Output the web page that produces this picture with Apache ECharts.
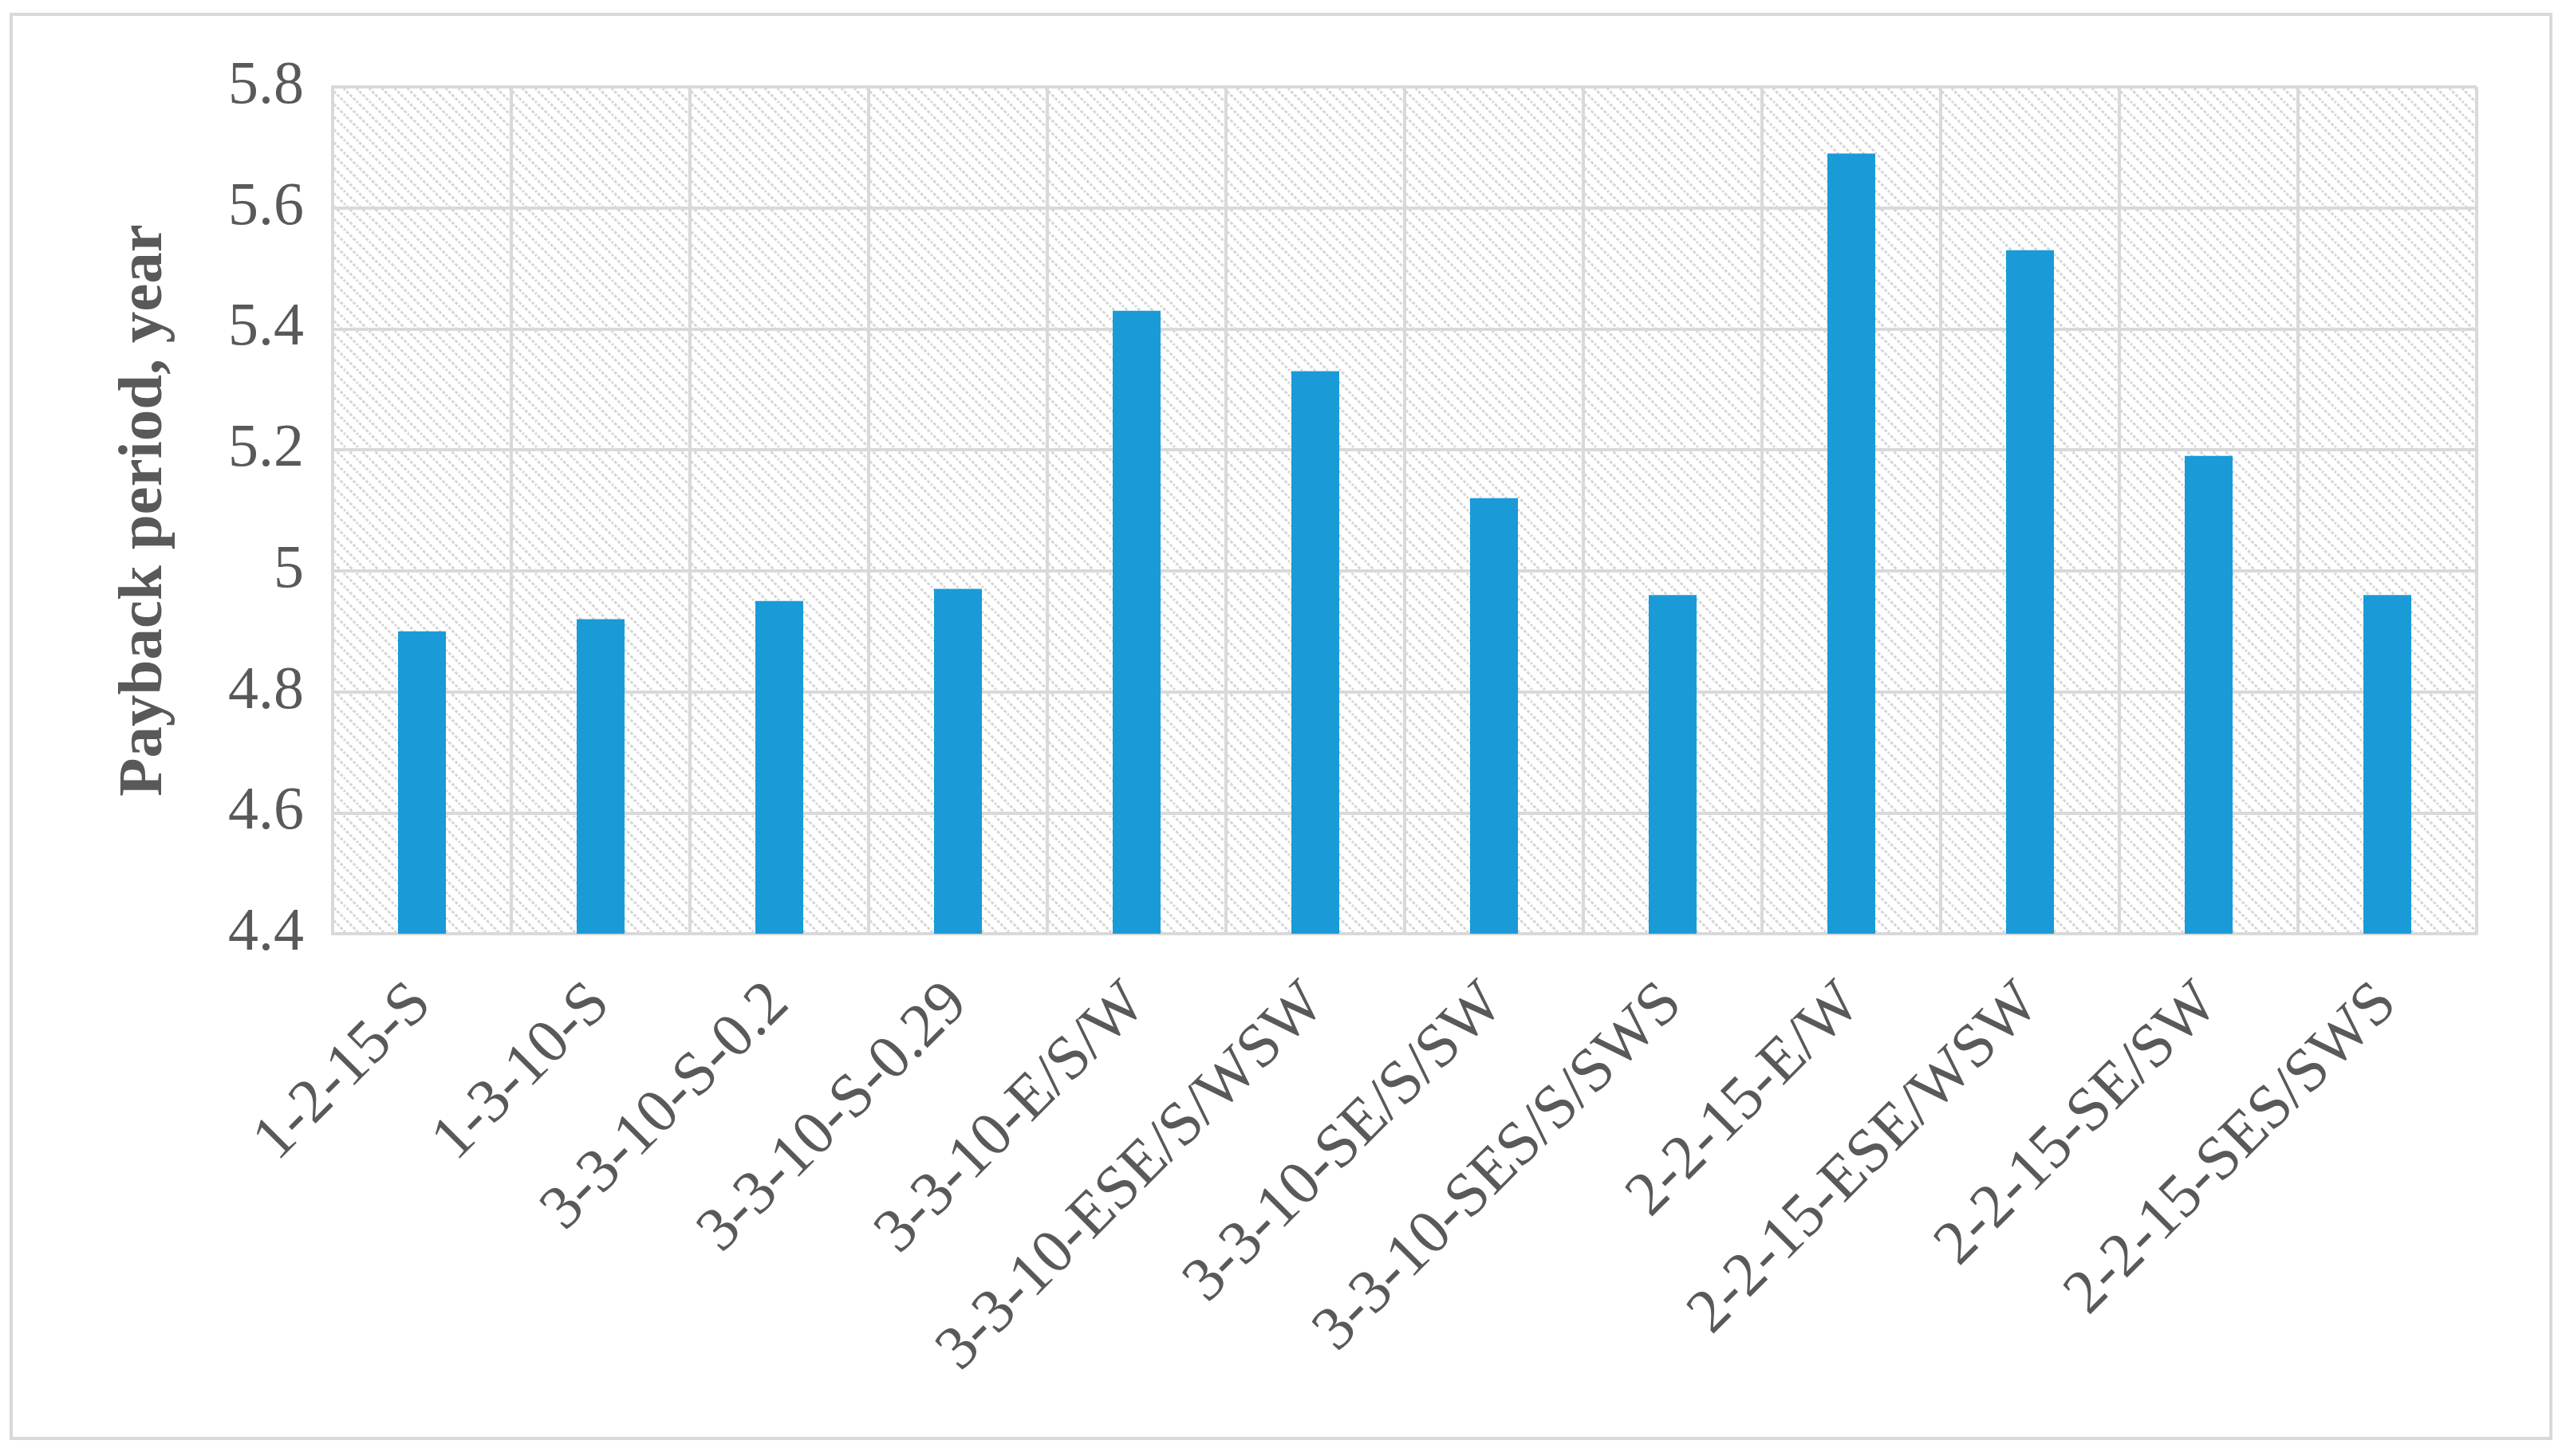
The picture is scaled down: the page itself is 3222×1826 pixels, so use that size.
<!DOCTYPE html>
<html>
<head>
<meta charset="utf-8">
<title>Payback period</title>
<script src="https://cdn.jsdelivr.net/npm/echarts@6/dist/echarts.min.js"></script>
<style>
  html, body { margin: 0; padding: 0; background: #fff; }
  #chart { width: 3222px; height: 1826px; }
</style>
</head>
<body>
<div id="chart"></div>
<script>
const categories = ['1-2-15-S', '1-3-10-S', '3-3-10-S-0.2', '3-3-10-S-0.29', '3-3-10-E/S/W',
  '3-3-10-ESE/S/WSW', '3-3-10-SE/S/SW', '3-3-10-SES/S/SWS', '2-2-15-E/W', '2-2-15-ESE/WSW',
  '2-2-15-SE/SW', '2-2-15-SES/SWS']
const payback = [4.90, 4.92, 4.95, 4.97, 5.43, 5.33, 5.12, 4.96, 5.69, 5.53, 5.19, 4.96]
const yMin = 4.4
const yMax = 5.8
const yStep = 0.2

// hatch tile for the plot background (light diagonal lines, top-left to bottom-right)
function hatchTile() {
  const c = document.createElement('canvas')
  c.width = 16
  c.height = 16
  const ctx = c.getContext('2d')
  ctx.fillStyle = '#ffffff'
  ctx.fillRect(0, 0, 16, 16)
  ctx.strokeStyle = '#d6d6d6'
  ctx.lineWidth = 3
  ctx.setLineDash([4, 2])
  for (const k of [-16, 0, 16]) {
    ctx.beginPath()
    ctx.moveTo(k - 2, -2)
    ctx.lineTo(k + 18, 18)
    ctx.stroke()
  }
  return c
}

const font = '"Liberation Serif", "DejaVu Serif", serif'
const chart = echarts.init(document.getElementById('chart'))

chart.setOption({
  animation: false,
  backgroundColor: '#ffffff',
  graphic: [{
    type: 'rect',
    shape: { x: 14, y: 18, width: 3184, height: 1786 },
    style: { fill: 'none', stroke: '#d9d9d9', lineWidth: 4 },
    z: -1
  }],
  grid: {
    left: 417,
    right: 117,
    top: 109,
    bottom: 655,
    show: true,
    backgroundColor: { image: hatchTile(), repeat: 'repeat' },
    borderWidth: 0
  },
  xAxis: {
    type: 'category',
    data: categories,
    axisLine: { show: true, lineStyle: { color: '#d9d9d9', width: 4 } },
    axisTick: { show: false },
    splitLine: { show: true, lineStyle: { color: '#d9d9d9', width: 4 } },
    axisLabel: {
      rotate: 45,
      interval: 0,
      margin: 76,
      verticalAlign: 'middle',
      fontFamily: font,
      fontSize: 78,
      color: '#595959'
    }
  },
  yAxis: {
    type: 'value',
    min: yMin,
    max: yMax,
    interval: yStep,
    name: 'Payback period, year',
    nameLocation: 'middle',
    nameGap: 196,
    nameTextStyle: {
      fontFamily: font,
      fontSize: 79,
      fontWeight: 'bold',
      color: '#595959'
    },
    axisLine: { show: true, lineStyle: { color: '#d9d9d9', width: 4 } },
    axisTick: { show: false },
    splitLine: { show: true, lineStyle: { color: '#d9d9d9', width: 4 } },
    axisLabel: {
      margin: 36,
      fontFamily: font,
      fontSize: 76,
      color: '#595959',
      formatter: v => String(Math.round(v * 10) / 10)
    }
  },
  series: [{
    type: 'bar',
    data: payback,
    barWidth: 60,
    itemStyle: { color: '#1a9bd7' }
  }]
})
</script>
</body>
</html>
